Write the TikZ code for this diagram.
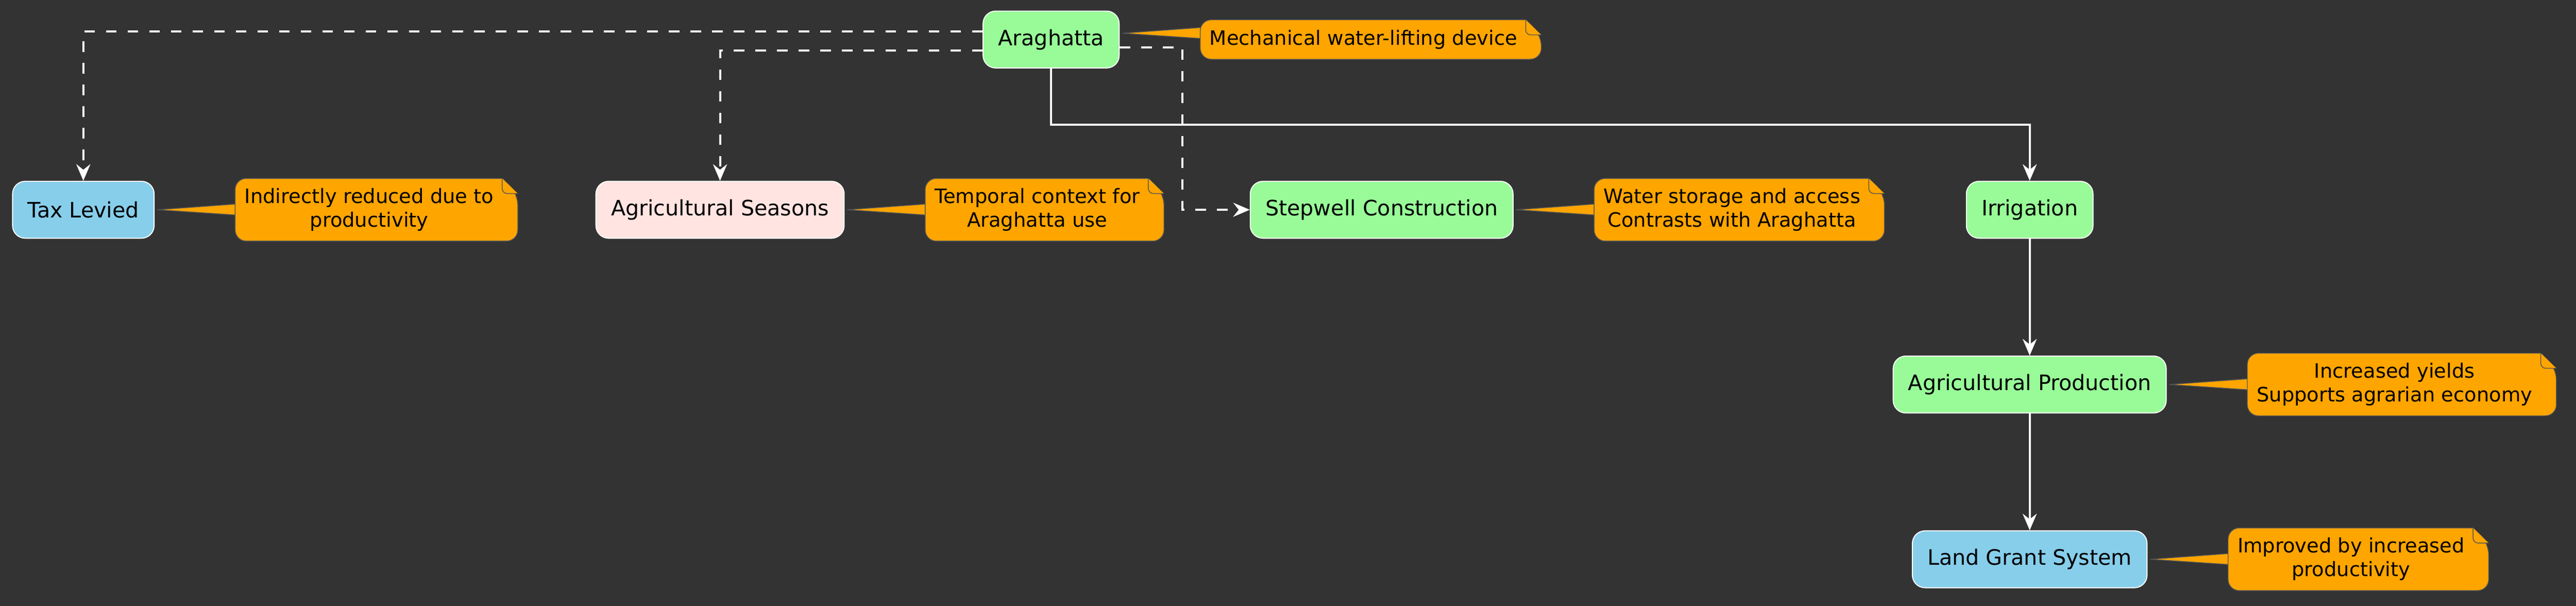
\documentclass[tikz,border=0pt]{standalone}
\usepackage{fontspec}
\setmainfont{DejaVu Sans}
\usepackage{xcolor}
\usetikzlibrary{arrows.meta, positioning, calc, backgrounds}

\definecolor{bgdark}{HTML}{333333}
\definecolor{palegreen}{HTML}{98FB98}
\definecolor{skyblue}{HTML}{87CEEB}
\definecolor{mistyrose}{HTML}{FFE4E1}
\definecolor{noteorange}{HTML}{FFA500}
\definecolor{notegrey}{HTML}{555555}

\begin{document}
\begin{tikzpicture}[
    node distance=16mm,
    block/.style={rectangle, draw=white, line width=0.2mm, rounded corners=2.5mm, minimum height=11.3mm, inner xsep=3mm, text=black, font=\fontsize{12}{14.4}\selectfont},
    greenblock/.style={block, fill=palegreen},
    blueblock/.style={block, fill=skyblue},
    pinkblock/.style={block, fill=mistyrose},
    note/.style={inner xsep=1.8mm, minimum height=12.3mm, align=center, text=black, font=\fontsize{11.2}{13.4}\selectfont},
    notefill/.style={fill=noteorange, draw=notegrey, line width=0.15mm},
    arrow/.style={draw=white, line width=0.4mm, -{Stealth[length=3.3mm, width=2.8mm, inset=1.1mm]}},
    dasharrow/.style={arrow, dash pattern=on 2.1mm off 2.2mm},
]
    \useasboundingbox (0,0) rectangle (51.16,-12.03);

    % Main nodes
    \node[greenblock] (arag) at (20.875,-0.785) {Araghatta};
    \node[blueblock] (tax) at (1.655,-4.165) {Tax Levied};
    \node[pinkblock] (season) at (14.30,-4.165) {Agricultural Seasons};
    \node[greenblock] (well) at (27.44,-4.165) {Stepwell Construction};
    \node[greenblock] (irrig) at (40.31,-4.165) {Irrigation};
    \node[greenblock, below=23.2mm of irrig] (prod) {Agricultural Production};
    \node[blueblock, below=23.2mm of prod] (grant) {Land Grant System};

    % Notes
    \node[note, minimum height=7.7mm, right=of arag] (mechnote) {Mechanical water-lifting device};
    \node[note, right=of tax] (taxnote) {Indirectly reduced due to\\productivity};
    \node[note, right=of season] (seasonnote) {Temporal context for\\Araghatta use};
    \node[note, right=of well] (wellnote) {Water storage and access\\Contrasts with Araghatta};
    \node[note, right=of prod] (yieldnote) {Increased yields\\Supports agrarian economy};
    \node[note, right=of grant] (grantnote) {Improved by increased\\productivity};

    % Note shapes behind the text
    \begin{scope}[on background layer]
        \fill[bgdark] (0,0) rectangle (51.16,-12.03);
        \foreach \n/\t/\s in {taxnote/tax/0mm, seasonnote/season/0mm, mechnote/arag/1.25mm, wellnote/well/0mm, yieldnote/prod/0mm, grantnote/grant/0mm} {
            \coordinate (tip) at ($(\t.east)+(0.5mm,\s)$);
            \filldraw[notefill] (tip) -- ($(\n.west |- tip)+(1mm,1.2mm)$) -- ($(\n.west |- tip)+(1mm,-1.1mm)$) -- cycle;
            \coordinate (ne) at ($(\n.north east)+(2.9mm,0)$);
            \coordinate (se) at ($(\n.south east)+(2.9mm,0)$);
            \filldraw[notefill] ($(ne)+(-3.1mm,0)$) [rounded corners=2.2mm] -- (\n.north west) -- (\n.south west) -- (se) -- ($(ne)+(0,-3mm)$) [sharp corners] -- cycle;
            \filldraw[notefill] ($(ne)+(-3.1mm,0)$) [rounded corners=1mm] -- ($(ne)+(-3.1mm,-3mm)$) -- ($(ne)+(0,-3mm)$);
        }
    \end{scope}

    % Connections
    \draw[dasharrow] ([yshift=1.65mm]arag.west) -| (tax.north);
    \draw[dasharrow] ([yshift=-2.15mm]arag.west) -| (season.north);
    \draw[dasharrow] ([yshift=-1.55mm]arag.east) -- ++(12.5mm,0) |- (well.west);
    \draw[arrow] (arag.south) -- ++(0,-11.2mm) -| (irrig.north);
    \draw[arrow] (irrig) -- (prod);
    \draw[arrow] (prod) -- (grant);
\end{tikzpicture}
\end{document}
